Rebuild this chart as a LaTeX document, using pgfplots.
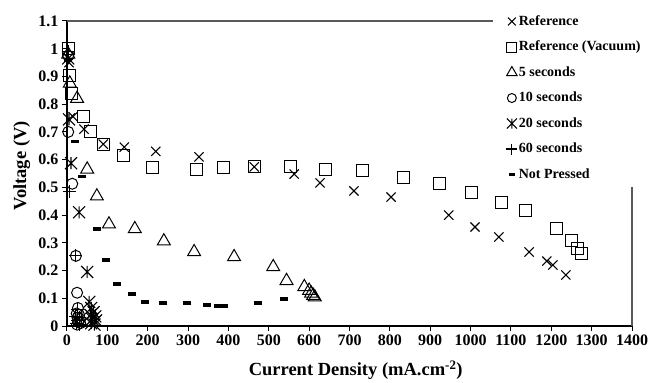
\documentclass[border=0pt]{standalone}
\usepackage{fontspec}
\setmainfont{Liberation Serif}
\usepackage{pgfplots}
\pgfplotsset{compat=1.18}
\pgfdeclareplotmark{xstar}{%
 \pgfpathmoveto{\pgfqpoint{-\pgfplotmarksize}{-\pgfplotmarksize}}%
 \pgfpathlineto{\pgfqpoint{\pgfplotmarksize}{\pgfplotmarksize}}%
 \pgfpathmoveto{\pgfqpoint{-\pgfplotmarksize}{\pgfplotmarksize}}%
 \pgfpathlineto{\pgfqpoint{\pgfplotmarksize}{-\pgfplotmarksize}}%
 \pgfpathmoveto{\pgfqpoint{0pt}{-\pgfplotmarksize}}%
 \pgfpathlineto{\pgfqpoint{0pt}{\pgfplotmarksize}}%
 \pgfusepathqstroke}
\begin{document}
\begin{tikzpicture}
\begin{axis}[
 scale only axis, width=565pt, height=305pt,
 xmin=0, xmax=1400, ymin=0, ymax=1.1,
 axis x line*=bottom, axis y line*=left,
 axis line style={line width=1.3pt, -},
 xtick={0,100,...,1400},
 ytick={0,0.1,0.2,0.3,0.4,0.5,0.6,0.7,0.8,0.9,1,1.1},
 tick align=outside, major tick length=5pt,
 tick style={black, line width=1pt},
 ticklabel style={font=\fontsize{16}{18}\selectfont\bfseries},
 /pgf/number format/assume math mode=true,
 /pgf/number format/1000 sep={},
 xlabel={Current Density (mA.cm\textsuperscript{-2})},
 ylabel={Voltage (V)},
 label style={font=\fontsize{18.5}{20}\selectfont\bfseries},
 xlabel style={at={(axis description cs:0.511,-0.146)}, anchor=center},
 ylabel style={at={(axis description cs:-0.080,0.525)}, anchor=center},
 clip=false,
 every axis plot/.append style={only marks, black, line width=1.1pt},
 legend style={at={(axis description cs:0.772,1.035)}, anchor=north west,
   draw=none, fill=white, inner sep=3pt,
   font=\fontsize{14}{16}\selectfont\bfseries, row sep=9.5pt,
   nodes={inner sep=1.5pt, text height=10pt, text depth=3pt}},
 legend cell align=left,
 legend image code/.code={\draw[#1] plot coordinates {(0.2cm,0cm)};},
]
\addplot[mark=x, mark size=6.5pt, legend image post style={mark size=5.5pt}] coordinates {
(5,0.95) (15,0.755) (42,0.71) (90,0.656) (142,0.645) (220,0.63) (327,0.61)
(464,0.574) (563,0.548) (627,0.516) (711,0.487) (803,0.465) (946,0.40)
(1011,0.357) (1070,0.321) (1145,0.267) (1189,0.234) (1204,0.22) (1236,0.184)};
\addlegendentry{Reference}
\addplot[mark=square, mark size=6pt, line width=1pt, legend image post style={mark size=5pt}] coordinates {
(3,1.0) (7,0.905) (12,0.84) (40,0.757) (57,0.70) (90,0.656) (141,0.614)
(211,0.57) (320,0.565) (387,0.57) (464,0.574) (553,0.577) (640,0.566)
(731,0.56) (835,0.537) (924,0.515) (1003,0.483) (1077,0.447) (1137,0.415)
(1214,0.35) (1251,0.31) (1266,0.28) (1276,0.263)};
\addlegendentry{Reference (Vacuum)}
\addplot[mark=triangle, mark size=7.5pt, line width=1pt, legend image post style={mark size=6pt}] coordinates {
(3,0.98) (7,0.875) (25,0.82) (50,0.565) (74,0.468) (104,0.367) (168,0.35)
(240,0.306) (315,0.267) (414,0.249) (511,0.213) (544,0.163) (588,0.141)
(600,0.128) (605,0.118) (610,0.11) (614,0.104)};
\addlegendentry{5 seconds}
\addplot[mark=o, mark size=5.5pt, line width=1pt, legend image post style={mark size=4.5pt}] coordinates {
(3,0.975) (3,0.70) (13,0.513) (22,0.253) (25,0.12) (27,0.065) (24,0.045)
(30,0.04) (26,0.03) (32,0.025) (28,0.015) (33,0.01) (25,0.005)};
\addlegendentry{10 seconds}
\addplot[mark=xstar, mark size=6pt, legend image post style={mark size=5pt}] coordinates {
(3,0.965) (5,0.745) (10,0.587) (30,0.41) (50,0.195) (55,0.087) (60,0.065)
(66,0.05) (58,0.04) (70,0.035) (63,0.025) (72,0.02) (60,0.01) (68,0.005)};
\addlegendentry{20 seconds}
\addplot[mark=+, mark size=6.5pt, legend image post style={mark size=5.5pt}] coordinates {
(3,0.99) (7,0.485) (22,0.255) (25,0.06) (20,0.035) (30,0.03) (27,0.02)
(23,0.01) (31,0.005)};
\addlegendentry{60 seconds}
\addplot[mark=-, mark size=4pt, line width=3.5pt, legend image post style={mark size=3pt, line width=2.5pt}] coordinates {
(3,0.96) (20,0.665) (37,0.54) (75,0.35) (96,0.238) (125,0.151) (160,0.115)
(193,0.087) (238,0.083) (298,0.083) (346,0.075) (373,0.072) (389,0.072)
(474,0.083) (538,0.097)};
\addlegendentry{Not Pressed}
\draw[gray!70!black, line width=1.2pt] (axis cs:0,1.1) -- (axis cs:1055,1.1);
\draw[gray!70!black, line width=1.2pt] (axis cs:1400,0) -- (axis cs:1400,0.5);
\end{axis}
\pgfresetboundingbox
\path[use as bounding box] (-67pt,-57pt) rectangle (584pt,326pt);
\end{tikzpicture}
\end{document}
